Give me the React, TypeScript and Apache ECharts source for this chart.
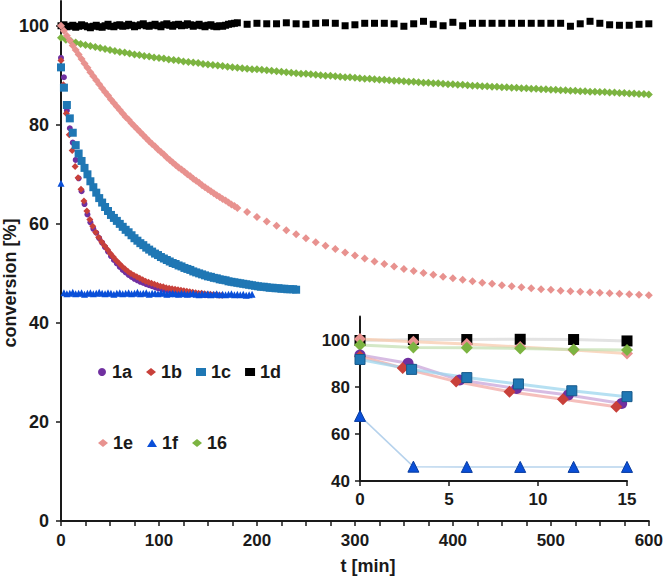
import { useEffect, useRef } from 'react';
import * as echarts from 'echarts';

const FONT = '"Liberation Sans", Arial, Helvetica, sans-serif';
const TXT = '#1a1a1a';

// ---------- main chart data (t [min], conversion [%]) ----------
const SERIES_NAMES = ['1a', '1b', '1c', '1d', '1e', '1f', '16'];

const v1a = [
  93.5, 89.6, 82.9, 79.3, 76.4, 72.9, 69.2, 66.6, 64.0, 61.9,
  60.3, 59.0, 58.2, 57.1, 56.2, 55.3, 54.4, 53.5, 52.7, 52.0,
  51.3, 50.7, 50.2, 49.7, 49.3, 48.9, 48.6, 48.3, 48.1, 47.8,
  47.6, 47.4, 47.2, 47.0, 46.9, 46.7, 46.6, 46.5, 46.4, 46.3,
  46.2, 46.1, 46.0, 45.9, 45.9, 45.8, 45.8, 45.7, 45.7, 45.6,
  45.6,
];
const v1b = [
  93.0, 88.1, 82.3, 78.0, 74.8, 71.6, 69.3, 67.0, 64.6, 62.6,
  60.9, 59.5, 58.3, 57.3, 56.4, 55.6, 54.8, 54.0, 53.3, 52.6,
  52.0, 51.4, 50.9, 50.4, 50.0, 49.6, 49.3, 49.0, 48.7, 48.4,
  48.2, 48.0, 47.8, 47.6, 47.4, 47.3, 47.1, 47.0, 46.9, 46.8,
  46.7, 46.6, 46.5, 46.4, 46.3, 46.2, 46.1, 46.0, 46.0, 45.9,
  45.8, 45.8, 45.7, 45.7, 45.6, 45.6,
];
const v1c = [
  91.6, 87.5, 84.0, 81.3, 78.4, 75.9, 74.2, 72.7, 71.3, 70.0,
  68.6, 67.4, 66.3, 65.2, 64.3, 63.4, 62.6, 61.8, 61.2, 60.6,
  60.0, 59.4, 58.8, 58.3, 57.7, 57.1, 56.6, 56.1, 55.7, 55.2,
  54.8, 54.4, 54.0, 53.7, 53.3, 53.0, 52.7, 52.4, 52.1, 51.9,
  51.6, 51.4, 51.1, 50.9, 50.7, 50.4, 50.2, 50.0, 49.8, 49.6,
  49.4, 49.3, 49.1, 49.0, 48.8, 48.7, 48.6, 48.4, 48.3, 48.2,
  48.1, 48.0, 47.9, 47.8, 47.7, 47.6, 47.5, 47.4, 47.3, 47.3,
  47.2, 47.1, 47.1, 47.0, 47.0, 46.9, 46.9, 46.8, 46.8, 46.8,
  46.7,
];
const v1dDense = [
  100.0, 100.2, 99.8, 99.9, 100.1, 99.7, 99.9, 100.2, 100.0, 99.8,
  99.6, 99.9, 100.1, 99.8, 99.7, 100.0, 100.3, 99.9, 99.8, 100.1,
  100.2, 99.9, 100.0, 100.3, 100.1, 99.8, 100.0, 100.2, 100.4, 100.0,
  99.9, 100.1, 100.3, 100.0, 99.8, 100.2, 100.4, 100.1, 99.9, 100.2,
  100.3, 100.0, 100.1, 100.4, 100.2, 99.9, 100.1, 100.3, 100.0, 99.8,
  100.1, 100.2, 99.9, 99.8, 100.0, 99.9, 100.1, 100.3, 100.4, 100.5,
  100.6,
];
const v1dSparse = [
  100.3, 100.5, 100.4, 100.4, 100.6, 100.4, 100.3, 100.5, 100.6,
  100.5, 100.0, 100.2, 100.5, 100.5, 100.5, 100.4, 99.9, 100.4, 100.9,
  100.3, 100.0, 100.7, 100.0, 100.5, 100.5, 100.5, 100.5, 100.5, 100.5,
  100.5, 100.5, 100.5, 100.5, 99.9, 100.4, 100.9, 100.5, 100.2, 100.1,
  100.1, 100.3, 100.4,
];
const v1eDense = [
  100.0, 99.0, 98.0, 97.0, 96.0, 95.1, 94.2, 93.3, 92.4, 91.5,
  90.6, 89.8, 89.0, 88.2, 87.4, 86.6, 85.9, 85.1, 84.4, 83.7,
  83.0, 82.3, 81.6, 81.0, 80.3, 79.7, 79.1, 78.5, 77.9, 77.3,
  76.7, 76.1, 75.6, 75.0, 74.5, 74.0, 73.4, 72.9, 72.4, 71.9,
  71.4, 71.0, 70.5, 70.0, 69.6, 69.1, 68.7, 68.3, 67.8, 67.4,
  67.0, 66.6, 66.2, 65.8, 65.4, 65.0, 64.7, 64.3, 63.9, 63.6,
  63.2,
];
const v1eSparse = [
  62.4, 61.4, 60.5, 59.6, 58.7, 57.9, 57.1, 56.3, 55.6, 54.9,
  54.2, 53.6, 53.0, 52.4, 51.9, 51.4, 50.9, 50.5, 50.1, 49.7,
  49.3, 49.0, 48.7, 48.4, 48.1, 47.9, 47.6, 47.4, 47.2, 47.0,
  46.8, 46.7, 46.5, 46.4, 46.3, 46.2, 46.1, 46.0, 45.9, 45.8,
  45.7, 45.6,
];
const v1f = [
  68.2,
  46.1, 45.9, 46.0, 46.2, 45.9, 46.0, 46.1, 45.8, 46.0, 46.1,
  45.9, 46.0, 46.2, 46.0, 45.9, 46.1, 46.0, 45.8, 46.0, 46.1,
  45.9, 46.0, 46.1, 45.9, 46.0, 46.2, 45.9, 46.0, 46.1, 45.8,
  46.0, 46.0, 45.9, 46.1, 46.0, 45.8, 45.9, 46.0, 45.9, 45.8,
  46.0, 45.9, 45.8, 45.9, 46.0, 45.8, 45.7, 45.9, 45.8, 45.9,
  45.7, 45.8, 45.9, 45.7, 45.8, 45.7, 45.8, 45.9, 45.7, 45.8,
  45.7, 45.8, 45.6, 45.7, 45.8,
];
const v16 = [
  97.6, 97.2, 96.9, 96.6, 96.3, 96.1, 95.9, 95.7, 95.5, 95.3,
  95.1, 94.9, 94.7, 94.6, 94.4, 94.2, 94.1, 93.9, 93.8, 93.6,
  93.5, 93.4, 93.2, 93.1, 93.0, 92.8, 92.7, 92.6, 92.5, 92.3,
  92.2, 92.1, 92.0, 91.9, 91.7, 91.6, 91.5, 91.4, 91.3, 91.2,
  91.2, 91.1, 91.0, 90.9, 90.8, 90.7, 90.6, 90.5, 90.4, 90.3,
  90.3, 90.2, 90.1, 90.0, 89.9, 89.9, 89.8, 89.7, 89.6, 89.6,
  89.5, 89.4, 89.3, 89.3, 89.2, 89.1, 89.1, 89.0, 88.9, 88.9,
  88.8, 88.7, 88.7, 88.6, 88.5, 88.5, 88.4, 88.4, 88.3, 88.2,
  88.2, 88.1, 88.1, 88.0, 87.9, 87.9, 87.8, 87.8, 87.7, 87.7,
  87.6, 87.6, 87.5, 87.5, 87.4, 87.4, 87.3, 87.3, 87.2, 87.2,
  87.1, 87.1, 87.0, 87.0, 86.9, 86.9, 86.8, 86.8, 86.7, 86.7,
  86.6, 86.6, 86.5, 86.5, 86.4, 86.4, 86.3, 86.3, 86.2, 86.2,
  86.1,
];

// ---------- inset data (first 15 min) ----------
const insetT1a = [0, 2.7, 5.6, 8.8, 11.7, 14.7];
const insetV1a = [93.6, 90.1, 83.0, 79.4, 76.6, 73.0];
const insetT1b = [0, 2.4, 5.4, 8.4, 11.4, 14.4];
const insetV1b = [93.0, 88.1, 82.3, 78.0, 74.8, 71.6];
const insetT1c = [0, 2.9, 6.0, 8.9, 11.9, 15];
const insetV1c = [91.7, 87.5, 84.0, 81.3, 78.4, 75.9];
const insetT = [0, 3, 6, 9, 12, 15];
const insetV1d = [99.8, 100.2, 100.2, 100.3, 100.2, 99.6];
const insetV1e = [100.4, 99.3, 98.3, 97.0, 95.7, 94.3];
const insetV16 = [97.9, 96.8, 96.7, 96.4, 96.0, 95.7];
const insetV1f = [67.7, 46.1, 46.0, 46.0, 46.0, 46.0];

const mainYTicks = [0, 20, 40, 60, 80, 100];
const insetYTicks = [40, 60, 80, 100];

// colours
const C = {
  '1a': '#7030A0',
  '1b': '#C8403A',
  '1c': '#1F77B4',
  '1d': '#000000',
  '1e': '#E8928F',
  '1f': '#0A4FD8',
  '16': '#7CB441',
};
const LINE_C = {
  '1a': '#C9A6D9',
  '1b': '#F2A9A6',
  '1c': '#9DD6EE',
  '1d': '#D9D9D9',
  '1e': '#F8CBAD',
  '1f': '#9DC3E6',
  '16': '#C5E0B4',
};

function seq(start: number, step: number, n: number): number[] {
  return Array.from({ length: n }, (_, i) => Math.round((start + i * step) * 100) / 100);
}
function pairs(ts: number[], vs: number[]) {
  return vs.map((v, i) => [ts[i], v]);
}

const t1a = seq(0, 3, v1a.length);
const t1b = [0, ...seq(2.4, 3, v1b.length - 1)];
const t1c = seq(0, 3, v1c.length);
const t1d = [...seq(0, 3, v1dDense.length), ...seq(190, 10, v1dSparse.length)];
const t1e = [...seq(0, 3, v1eDense.length), ...seq(190, 10, v1eSparse.length)];
const t1f = seq(0, 3, v1f.length);
const t16 = seq(0, 5, v16.length);

export default function App() {
  const ref = useRef<HTMLDivElement>(null);

  useEffect(() => {
    if (!ref.current) return;
    const chart = echarts.init(ref.current, undefined, { renderer: 'svg' });

    const labelStyle = { fontFamily: FONT, fontSize: 17, fontWeight: 'bold' as const, color: TXT };
    const axisLine = { show: true, lineStyle: { color: '#1a1a1a', width: 2 } };

    const mainScatter = (name: string, data: number[][], symbol: string, size: number) => ({
      name,
      type: 'scatter',
      xAxisIndex: 0,
      yAxisIndex: 0,
      symbol,
      symbolSize: size,
      itemStyle: { color: (C as any)[name], opacity: 1 },
      data,
      z: 3,
    });

    const insetLine = (key: string, ts: number[], vs: number[], symbol: string, size: number, width = 3, border?: string) => ({
      name: key + ' (0-15 min)',
      type: 'line',
      xAxisIndex: 1,
      yAxisIndex: 1,
      symbol,
      symbolSize: size,
      showSymbol: true,
      lineStyle: { color: (LINE_C as any)[key], width, opacity: 0.75 },
      itemStyle: { color: (C as any)[key], borderColor: border || (C as any)[key], borderWidth: border ? 1 : 0, opacity: 1 },
      data: pairs(ts, vs),
      z: 4,
    });

    const legendBase = {
      orient: 'horizontal',
      padding: 0,
      itemWidth: 10,
      itemHeight: 8,
      itemGap: 14,
      selectedMode: false,
      textStyle: { fontFamily: FONT, fontSize: 18, fontWeight: 'bold', color: TXT, padding: [0, 0, 0, 0] },
    };

    chart.setOption({
      animation: false,
      backgroundColor: '#ffffff',
      textStyle: { fontFamily: FONT },
      grid: [
        { left: 61, top: 1, width: 589, height: 520 },
        { left: 360, top: 316.5, width: 267, height: 164.5 },
      ],
      legend: [
        {
          ...legendBase,
          left: 98,
          top: 363,
          data: [
            { name: '1a', icon: 'circle' },
            { name: '1b', icon: 'diamond' },
            { name: '1c', icon: 'rect' },
            { name: '1d', icon: 'rect' },
          ],
        },
        {
          ...legendBase,
          left: 98,
          top: 434,
          data: [
            { name: '1e', icon: 'diamond' },
            { name: '1f', icon: 'triangle' },
            { name: '16', icon: 'diamond' },
          ],
        },
      ],
      xAxis: [
        {
          type: 'value',
          gridIndex: 0,
          min: 0,
          max: 600,
          interval: 25,
          axisLine,
          axisTick: { show: true, length: 5, lineStyle: { color: '#1a1a1a', width: 1.5 } },
          axisLabel: {
            ...labelStyle,
            margin: 11,
            formatter: (v: number) => (v % 100 === 0 ? String(v) : ''),
          },
          splitLine: { show: false },
        },
        {
          type: 'value',
          gridIndex: 1,
          min: 0,
          max: 15,
          interval: 5,
          axisLine,
          axisTick: { show: true, length: 5, lineStyle: { color: '#1a1a1a', width: 1.5 } },
          axisLabel: { ...labelStyle, margin: 10 },
          splitLine: { show: false },
        },
      ],
      yAxis: [
        {
          type: 'value',
          gridIndex: 0,
          min: 0,
          max: 105,
          interval: 20,
          axisLine,
          axisTick: { show: true, length: 5, customValues: mainYTicks, lineStyle: { color: '#1a1a1a', width: 1.5 } },
          axisLabel: {
            ...labelStyle,
            fontSize: 18,
            margin: 12,
            customValues: mainYTicks,
            formatter: (v: number) => (v % 20 === 0 ? String(v) : ''),
          },
          splitLine: { show: false },
        },
        {
          type: 'value',
          gridIndex: 1,
          min: 40,
          max: 110,
          interval: 20,
          axisLine,
          axisTick: { show: true, length: 5, customValues: insetYTicks, lineStyle: { color: '#1a1a1a', width: 1.5 } },
          axisLabel: {
            ...labelStyle,
            margin: 10,
            customValues: insetYTicks,
            formatter: (v: number) => (v % 20 === 0 && v <= 100 ? String(v) : ''),
          },
          splitLine: { show: false },
        },
      ],
      graphic: [
        {
          type: 'text',
          x: 10,
          y: 283,
          rotation: Math.PI / 2,
          style: {
            text: 'conversion [%]',
            font: `bold 18px ${FONT}`,
            fill: TXT,
            align: 'center',
            verticalAlign: 'middle',
          },
        },
        {
          type: 'text',
          x: 368,
          y: 566,
          style: {
            text: 't [min]',
            font: `bold 18px ${FONT}`,
            fill: TXT,
            align: 'center',
            verticalAlign: 'middle',
          },
        },
      ],
      series: [
        mainScatter('1a', pairs(t1a, v1a), 'circle', 6),
        mainScatter('1b', pairs(t1b, v1b), 'diamond', 7),
        mainScatter('1c', pairs(t1c, v1c), 'rect', 8),
        mainScatter('1d', pairs(t1d, [...v1dDense, ...v1dSparse]), 'rect', 7),
        mainScatter('16', pairs(t16, v16), 'diamond', 8),
        mainScatter('1e', pairs(t1e, [...v1eDense, ...v1eSparse]), 'diamond', 8),
        mainScatter('1f', pairs(t1f, v1f), 'triangle', 7),
        insetLine('1d', insetT, insetV1d, 'rect', 11),
        insetLine('1e', insetT, insetV1e, 'diamond', 12),
        insetLine('16', insetT, insetV16, 'diamond', 12),
        insetLine('1a', insetT1a, insetV1a, 'circle', 11),
        insetLine('1b', insetT1b, insetV1b, 'diamond', 12),
        insetLine('1c', insetT1c, insetV1c, 'rect', 10, 3, '#17598a'),
        insetLine('1f', insetT, insetV1f, 'triangle', 11, 1.5, '#063a9e'),
      ],
    });

    return () => chart.dispose();
  }, []);

  return (
    <div
      ref={ref}
      style={{ position: 'fixed', left: 0, top: 0, width: 666, height: 577, background: '#fff' }}
    />
  );
}
